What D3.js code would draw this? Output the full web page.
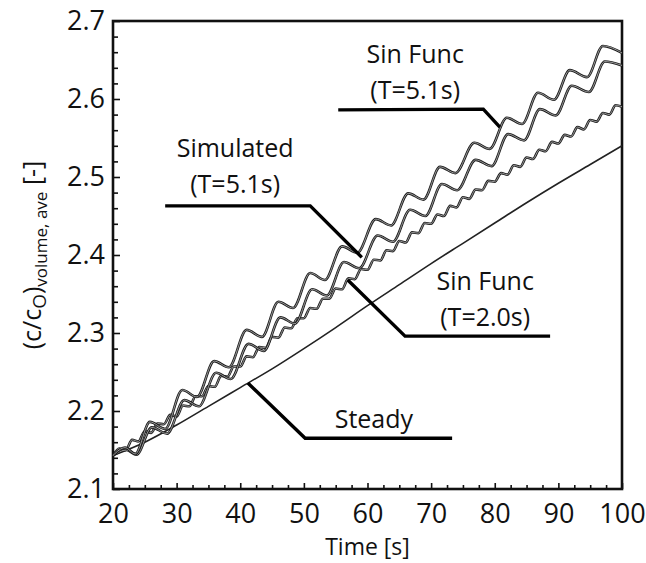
<!DOCTYPE html>
<html>
<head>
<meta charset="utf-8">
<script src="https://cdn.jsdelivr.net/npm/d3@7"></script>
<style>
  html, body { margin: 0; padding: 0; background: #fff; }
  svg { display: block; }
  text { font-family: "Open Sans", "Noto Sans", sans-serif; fill: #111; }
</style>
</head>
<body>
<svg id="chart" width="646" height="563"></svg>
<script>
// ---------------- data ----------------
const xTicks = [20, 30, 40, 50, 60, 70, 80, 90, 100];
const yTicks = [2.1, 2.2, 2.3, 2.4, 2.5, 2.6, 2.7];
const yTickLabels = ["2.1", "2.2", "2.3", "2.4", "2.5", "2.6", "2.7"];

// Sin Func (T=5.1s) – upper oscillating curve (peaks / troughs)
const sin51Time  = [20, 21.9, 23.5, 25.8, 28.2, 30.9, 33.2, 35.9, 38.2, 41.0, 43.4, 46.0, 48.3, 51.0, 53.3, 56.0, 58.4, 61.3, 63.7, 66.4, 68.8, 71.4, 73.8, 76.8, 79.2, 81.9, 84.3, 86.8, 89.3, 91.8, 94.5, 97.0, 100];
const sin51Value = [2.143, 2.153, 2.145, 2.186, 2.177, 2.227, 2.218, 2.264, 2.256, 2.304, 2.295, 2.340, 2.332, 2.377, 2.368, 2.411, 2.403, 2.446, 2.438, 2.479, 2.471, 2.513, 2.505, 2.544, 2.536, 2.576, 2.568, 2.608, 2.599, 2.637, 2.628, 2.668, 2.659];

// Simulated (T=5.1s)
const simTime  = [20, 22.1, 23.7, 26.1, 28.5, 31.2, 33.5, 36.2, 38.5, 41.3, 43.7, 46.3, 48.6, 51.3, 53.6, 56.3, 58.7, 61.6, 64.0, 66.7, 69.1, 71.7, 74.1, 77.0, 79.5, 82.1, 84.6, 87.1, 89.6, 92.1, 94.8, 97.3, 100];
const simValue = [2.143, 2.150, 2.144, 2.179, 2.171, 2.214, 2.206, 2.249, 2.241, 2.286, 2.277, 2.320, 2.312, 2.356, 2.348, 2.391, 2.383, 2.425, 2.417, 2.458, 2.450, 2.491, 2.483, 2.522, 2.514, 2.555, 2.547, 2.587, 2.579, 2.617, 2.609, 2.648, 2.643];

// Sin Func (T=2.0s) – small wiggles
const sin20Time = [20, 21, 22, 23, 24, 25, 26, 27, 28, 29, 30, 31, 32, 33, 34, 35, 36, 37, 38, 39, 40,
  41, 42, 43, 44, 45, 46, 47, 48, 49, 50, 51, 52, 53, 54, 55, 56, 57, 58, 59, 60,
  61, 62, 63, 64, 65, 66, 67, 68, 69, 70, 71, 72, 73, 74, 75, 76, 77, 78, 79, 80,
  81, 82, 83, 84, 85, 86, 87, 88, 89, 90, 91, 92, 93, 94, 95, 96, 97, 98, 99, 100];
const sin20Value = [2.143, 2.152, 2.150, 2.163, 2.161, 2.174, 2.172, 2.184, 2.183, 2.195, 2.193,
  2.207, 2.206, 2.219, 2.219, 2.232, 2.231, 2.245, 2.244, 2.257, 2.257,
  2.270, 2.269, 2.282, 2.281, 2.295, 2.294, 2.307, 2.306, 2.319, 2.319,
  2.332, 2.331, 2.344, 2.344, 2.357, 2.356, 2.370, 2.369, 2.382, 2.381,
  2.394, 2.393, 2.406, 2.405, 2.418, 2.416, 2.429, 2.428, 2.441, 2.440,
  2.452, 2.450, 2.463, 2.461, 2.474, 2.472, 2.484, 2.483, 2.495, 2.494,
  2.505, 2.503, 2.515, 2.513, 2.525, 2.523, 2.535, 2.533, 2.545, 2.543,
  2.554, 2.552, 2.564, 2.561, 2.573, 2.571, 2.582, 2.580, 2.592, 2.590];

// Steady
const steadyTime  = [20, 25, 30, 35, 40, 45, 50, 55, 60, 65, 70, 75, 80, 85, 90, 95, 100];
const steadyValue = [2.143, 2.160, 2.182, 2.206, 2.230, 2.254, 2.280, 2.307, 2.335, 2.362, 2.389, 2.415, 2.441, 2.467, 2.492, 2.516, 2.540];

// annotations: label lines, first-line baseline and leader (data coords: [time, value])
const annLabels = [
  { lines: ["Sin Func", "(T=5.1s)"], at: [67.5, 2.646], leader: [[55.4, 2.586], [78.2, 2.587], [80.8, 2.564]] },
  { lines: ["Simulated", "(T=5.1s)"], at: [39.2, 2.526], leader: [[28.2, 2.463], [51.0, 2.463], [59.1, 2.397]] },
  { lines: ["Sin Func", "(T=2.0s)"], at: [78.5, 2.355], leader: [[56.9, 2.368], [65.9, 2.296], [88.7, 2.296]] },
  { lines: ["Steady"], at: [61.0, 2.178], leader: [[41.2, 2.236], [50.2, 2.165], [73.3, 2.165]] }
];

// ---------------- chart ----------------
const svg = d3.select("#chart");
const L = 113, R = 622, T = 21, B = 489;
const x = d3.scaleLinear().domain([20, 100]).range([L, R]);
const y = d3.scaleLinear().domain([2.1, 2.7]).range([B, T]);

// minor ticks
const xMinor = d3.range(20, 100.01, 2.5).filter(v => Math.abs(v % 10) > 0.01);
const yMinor = d3.range(2.1, 2.7001, 0.02).filter(v => Math.abs(Math.round(v * 10) - v * 10) > 0.01);

svg.append("g").attr("transform", `translate(0,${B})`)
  .call(d3.axisBottom(x).tickValues(xMinor).tickSize(-4).tickFormat(""))
  .call(g => g.select(".domain").remove())
  .call(g => g.selectAll("line").attr("stroke", "#111").attr("stroke-width", 1.6));
svg.append("g").attr("transform", `translate(${L},0)`)
  .call(d3.axisLeft(y).tickValues(yMinor).tickSize(-5).tickFormat(""))
  .call(g => g.select(".domain").remove())
  .call(g => g.selectAll("line").attr("stroke", "#111").attr("stroke-width", 1.6));

// major ticks + labels
svg.append("g").attr("transform", `translate(0,${B})`)
  .call(d3.axisBottom(x).tickValues(xTicks).tickSize(-6).tickPadding(15).tickFormat(d3.format("d")))
  .call(g => g.select(".domain").remove())
  .call(g => g.selectAll("line").attr("stroke", "#111").attr("stroke-width", 1.6))
  .call(g => g.selectAll("text").attr("font-size", 27).attr("font-family", "Open Sans").attr("fill", "#111"));
svg.append("g").attr("transform", `translate(${L},0)`)
  .call(d3.axisLeft(y).tickValues(yTicks).tickSize(-7).tickPadding(8).tickFormat((d, i) => yTickLabels[i]))
  .call(g => g.select(".domain").remove())
  .call(g => g.selectAll("line").attr("stroke", "#111").attr("stroke-width", 1.6))
  .call(g => g.selectAll("text").attr("font-size", 27).attr("font-family", "Open Sans").attr("fill", "#111"));

// frame
svg.append("rect").attr("x", L).attr("y", T).attr("width", R - L).attr("height", B - T)
  .attr("fill", "none").attr("stroke", "#111").attr("stroke-width", 2.6);

// curves
const line = d3.line().x(d => x(d[0])).y(d => y(d[1])).curve(d3.curveMonotoneX);
const zip = (a, b) => a.map((v, i) => [v, b[i]]);

svg.append("path").datum(zip(steadyTime, steadyValue)).attr("d", line)
  .attr("fill", "none").attr("stroke", "#222").attr("stroke-width", 1.6);

[zip(sin20Time, sin20Value), zip(simTime, simValue), zip(sin51Time, sin51Value)].forEach(data => {
  svg.append("path").datum(data).attr("d", line)
    .attr("fill", "none").attr("stroke", "#1c1c1c").attr("stroke-width", 2.6).attr("stroke-linejoin", "round");
  svg.append("path").datum(data).attr("d", line)
    .attr("fill", "none").attr("stroke", "#a8a8a8").attr("stroke-width", 0.9).attr("stroke-linejoin", "round");
});

// annotations
const leaderLine = d3.line().x(d => x(d[0])).y(d => y(d[1]));
annLabels.forEach(a => {
  svg.append("path").datum(a.leader).attr("d", leaderLine)
    .attr("fill", "none").attr("stroke", "#000").attr("stroke-width", 3.4);
  const t = svg.append("text").attr("text-anchor", "middle").attr("font-size", 25)
    .attr("x", x(a.at[0])).attr("y", y(a.at[1]));
  a.lines.forEach((s, i) => {
    t.append("tspan").attr("x", x(a.at[0])).attr("dy", i === 0 ? 0 : 36).text(s);
  });
});

// axis titles
svg.append("text").attr("x", (L + R) / 2).attr("y", 555).attr("text-anchor", "middle")
  .attr("font-size", 23).text("Time [s]");

const yt = svg.append("text").attr("transform", `translate(41,${(T + B) / 2}) rotate(-90)`)
  .attr("text-anchor", "middle").attr("font-size", 25);
yt.append("tspan").text("(c/c");
yt.append("tspan").attr("font-size", 19).attr("dy", 5).text("O");
yt.append("tspan").attr("dy", -5).text(")");
yt.append("tspan").attr("font-size", 17).attr("dy", 6).text("volume, ave");
yt.append("tspan").attr("dy", -6).text(" [-]");
</script>
</body>
</html>
